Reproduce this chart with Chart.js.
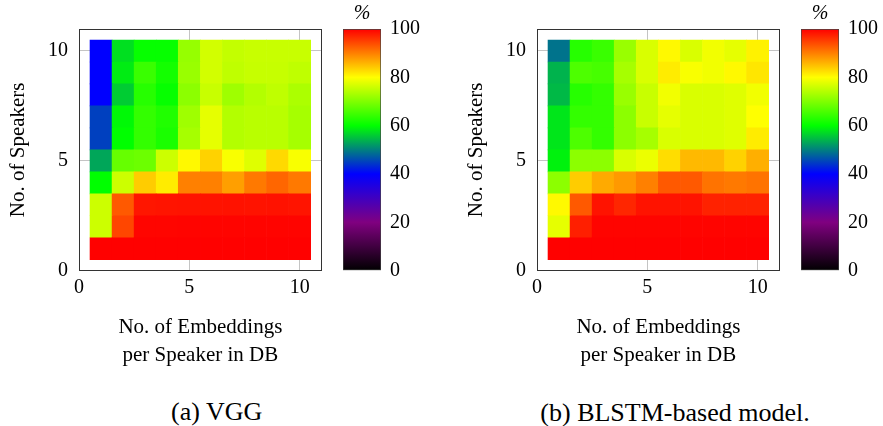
<!DOCTYPE html>
<html><head><meta charset="utf-8">
<script src="https://cdn.jsdelivr.net/npm/chart.js@4/dist/chart.umd.min.js"></script>
<style>
html,body{margin:0;padding:0;background:#fff;}
body{width:883px;height:426px;overflow:hidden;position:relative;font-family:"Liberation Serif",serif;color:#000;}
canvas{position:absolute;top:0;}
.cap{position:absolute;font-size:26px;white-space:nowrap;transform:translate(-50%,-50%);line-height:1;}
</style></head><body>
<canvas id="heatA" width="340" height="380" style="left:0px"></canvas>
<canvas id="barA" width="110" height="300" style="left:330px"></canvas>
<canvas id="heatB" width="340" height="380" style="left:457.7px"></canvas>
<canvas id="barB" width="110" height="300" style="left:787.7px"></canvas>
<div class="cap" style="left:216.7px;top:412px">(a) VGG</div>
<div class="cap" style="left:675px;top:413px">(b) BLSTM-based model.</div>
<script>
// ---- data ----
const embeddings = [1, 2, 3, 4, 5, 6, 7, 8, 9, 10];   // No. of embeddings per speaker in DB
const speakers   = [1, 2, 3, 4, 5, 6, 7, 8, 9, 10];   // No. of speakers
const axisTicks = [0, 5, 10];
const colorbarTicks = [0, 20, 40, 60, 80, 100];
const cmapStops = [0, 20, 40, 60, 80, 100];
const cmapColors = [[0,0,0],[128,0,128],[0,0,255],[0,255,0],[255,255,0],[255,0,0]];

// accuracy (%) — one row per number of speakers (1..10), columns = embeddings 1..10
const vggAccuracy = [
  [99.9, 99.9, 99.9, 99.9, 99.9, 99.9, 99.9, 99.9, 99.9, 99.9],
  [76.0, 94.5, 99.6, 99.6, 99.7, 99.7, 99.7, 99.7, 99.7, 99.7],
  [76.0, 93.0, 98.3, 98.4, 98.5, 98.5, 98.6, 98.5, 98.6, 98.4],
  [60.0, 76.0, 84.0, 81.5, 90.0, 90.0, 87.5, 90.5, 92.0, 90.5],
  [53.0, 68.0, 68.5, 76.0, 80.5, 83.5, 79.5, 77.5, 83.0, 79.5],
  [45.0, 60.0, 64.0, 62.0, 73.0, 78.0, 74.0, 74.5, 74.5, 73.0],
  [45.0, 59.5, 64.0, 62.5, 72.5, 78.0, 74.0, 74.5, 74.5, 73.0],
  [40.0, 56.0, 63.0, 60.5, 71.0, 75.7, 72.5, 74.0, 75.0, 73.5],
  [40.0, 58.5, 64.5, 61.5, 72.0, 76.5, 75.0, 75.5, 75.5, 75.0],
  [40.0, 57.5, 60.5, 60.5, 71.8, 76.5, 75.3, 75.7, 75.7, 75.7]
];
const blstmAccuracy = [
  [99.9, 99.9, 99.9, 99.9, 99.9, 99.9, 99.9, 99.9, 99.9, 99.9],
  [78.0, 97.6, 99.7, 99.7, 99.7, 99.7, 99.7, 99.7, 99.7, 99.7],
  [80.5, 93.0, 98.5, 97.0, 98.5, 98.5, 98.5, 97.3, 97.3, 97.3],
  [71.0, 84.0, 86.7, 88.0, 90.0, 93.0, 93.0, 91.0, 90.5, 91.0],
  [59.0, 71.0, 71.0, 77.0, 78.5, 82.7, 85.5, 85.5, 83.5, 86.3],
  [58.0, 66.0, 64.0, 71.0, 73.0, 77.0, 77.0, 77.0, 77.5, 81.5],
  [58.0, 64.0, 64.0, 71.0, 75.7, 78.0, 77.0, 77.0, 77.5, 80.0],
  [54.5, 63.0, 64.0, 72.0, 75.7, 79.0, 77.0, 77.0, 77.5, 79.0],
  [54.0, 66.0, 65.5, 73.0, 77.0, 81.5, 79.5, 79.0, 80.5, 82.0],
  [49.0, 63.0, 64.5, 72.0, 77.0, 80.5, 77.0, 79.0, 78.0, 81.0]
];

// ---- helpers ----
Chart.defaults.font.family = '"Liberation Serif", serif';
Chart.defaults.color = '#000';

function cmap(v) {
  const t = Math.max(cmapStops[0], Math.min(cmapStops[cmapStops.length - 1], v));
  for (let i = 0; i < cmapStops.length - 1; i++) {
    if (t <= cmapStops[i + 1]) {
      const f = (t - cmapStops[i]) / (cmapStops[i + 1] - cmapStops[i]);
      const a = cmapColors[i], b = cmapColors[i + 1];
      const c = a.map((x, k) => Math.round(x + (b[k] - x) * f));
      return `rgb(${c[0]},${c[1]},${c[2]})`;
    }
  }
}
const setTicks = vals => scale => { scale.ticks = vals.map(v => ({ value: v })); };

function heatmap(id, matrix) {
  const datasets = speakers.map((s, r) => ({
    data: embeddings.map(e => ({ x: e, y: [s - 0.5, s + 0.5] })),
    backgroundColor: matrix[r].map(cmap),
    borderWidth: 0,
    grouped: false,
    barPercentage: 1,
    categoryPercentage: 1
  }));
  const gridOpts = { color: '#c4c4c4', lineWidth: 1, drawTicks: false, offset: false };
  const borderOpts = { color: '#333', width: 1 };
  new Chart(document.getElementById(id), {
    type: 'bar',
    data: { datasets },
    options: {
      responsive: false, animation: false,
      layout: { padding: { top: 29, right: 18.3, left: 0, bottom: 0 } },
      plugins: { legend: { display: false }, tooltip: { enabled: false } },
      scales: {
        x: {
          type: 'linear', min: 0, max: 11, offset: false,
          afterBuildTicks: setTicks(axisTicks),
          afterFit: s => { s.height = 109.3; },
          grid: gridOpts, border: borderOpts,
          ticks: { padding: 5, font: { size: 20 }, maxRotation: 0, autoSkip: false },
          title: { display: true, text: ['No. of Embeddings', 'per Speaker in DB'],
                   font: { size: 21, lineHeight: 1.333 }, padding: { top: 0, bottom: 11 } }
        },
        y: {
          type: 'linear', min: 0, max: 11, position: 'left',
          afterBuildTicks: setTicks(axisTicks),
          afterFit: s => { s.width = 79; },
          grid: gridOpts, border: borderOpts,
          ticks: { padding: 11, font: { size: 20 }, autoSkip: false },
          title: { display: true, text: 'No. of Speakers',
                   font: { size: 21, lineHeight: 1.2 }, padding: { top: 6, bottom: 0 } }
        },
        x2: {
          type: 'linear', position: 'top', min: 0, max: 11,
          afterFit: s => { s.height = 0; },
          grid: { display: false }, ticks: { display: false }, border: borderOpts
        },
        y2: {
          type: 'linear', position: 'right', min: 0, max: 11,
          afterFit: s => { s.width = 0; },
          grid: { display: false }, ticks: { display: false }, border: borderOpts
        }
      }
    }
  });
}

function colorbar(id) {
  new Chart(document.getElementById(id), {
    type: 'bar',
    data: {
      labels: [''],
      datasets: [{
        data: [[colorbarTicks[0], colorbarTicks[colorbarTicks.length - 1]]],
        backgroundColor: ctx => {
          const area = ctx.chart.chartArea;
          if (!area) return null;
          const g = ctx.chart.ctx.createLinearGradient(0, area.bottom, 0, area.top);
          const lo = cmapStops[0], hi = cmapStops[cmapStops.length - 1];
          cmapStops.forEach(v => g.addColorStop((v - lo) / (hi - lo), cmap(v)));
          return g;
        },
        borderColor: '#444', borderWidth: 1, borderSkipped: false,
        barPercentage: 1, categoryPercentage: 1
      }]
    },
    options: {
      responsive: false, animation: false,
      layout: { padding: { left: 13, top: 0, right: 0, bottom: 29.3 } },
      plugins: {
        legend: { display: false }, tooltip: { enabled: false },
        title: { display: true, text: '%', fullSize: false, color: '#000',
                 font: { size: 20, style: 'italic', weight: 'normal', lineHeight: 1.2 },
                 padding: { top: 2, bottom: 3 } }
      },
      scales: {
        x: { display: false },
        y: {
          position: 'right', min: 0, max: 100, z: 1,
          afterBuildTicks: setTicks(colorbarTicks),
          afterFit: s => { s.width = 59; },
          grid: {
            drawTicks: false, lineWidth: 1,
            color: c => (c.tick && (c.tick.value === 0 || c.tick.value === 100)) ? 'rgba(0,0,0,0)' : 'rgba(105,105,105,0.9)'
          },
          border: { display: false, dash: [5, 28] },
          ticks: { padding: 9, font: { size: 20 }, autoSkip: false }
        }
      }
    }
  });
}

heatmap('heatA', vggAccuracy);
colorbar('barA');
heatmap('heatB', blstmAccuracy);
colorbar('barB');
</script>
</body></html>
